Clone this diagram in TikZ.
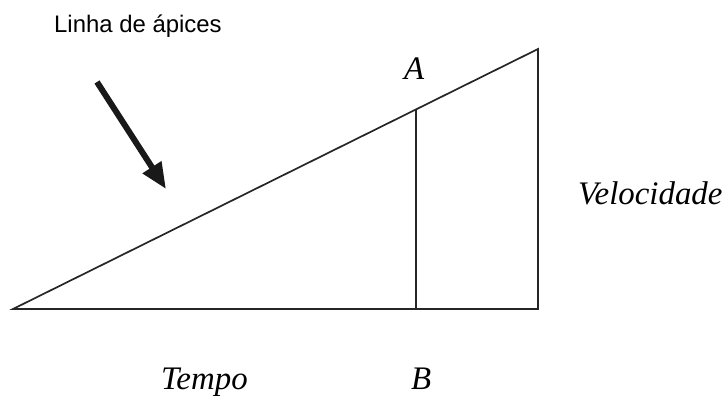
\documentclass[tikz,border=0pt]{standalone}
\usepackage{fontspec}
\setmainfont{Liberation Serif}
\newfontfamily\labelsans{Liberation Sans}
\usetikzlibrary{arrows.meta}
\begin{document}
\begin{tikzpicture}[x=1bp,y=-1bp,
  edge/.style={line width=1.7bp,draw=black!85},
  lbl/.style={inner sep=0pt,anchor=base west,font=\fontsize{33}{33}\selectfont\itshape},
  note/.style={inner sep=0pt,anchor=base west,font=\labelsans\fontsize{24}{25}\selectfont},
  bigarrow/.style={line width=6bp,draw=black!90,-{Triangle[length=26bp,width=21bp]}}]
\useasboundingbox (0,0) rectangle (728,397);
\coordinate (O) at (13,309);
\coordinate (P) at (538,309);
\coordinate (Q) at (538,49);
\coordinate (Atop) at (415.7,109.6);
\coordinate (Bbot) at (415.7,309);
\coordinate (tail) at (97,82);
\coordinate (tip) at (166,189);
\draw[edge,line join=miter] (O) -- (P) -- (Q) -- cycle;
\draw[edge] (Atop) -- (Bbot);
\draw[bigarrow] (tail) -- (tip);
\node[note] (linha) at (54,32) {Linha de ápices};
\node[lbl] (A) at (404,79) {A};
\node[lbl] (B) at (411,389) {B};
\node[lbl] (tempo) at (161,389) {Tempo};
\node[lbl] (vel) at (578,204) {Velocidade};
\end{tikzpicture}
\end{document}
